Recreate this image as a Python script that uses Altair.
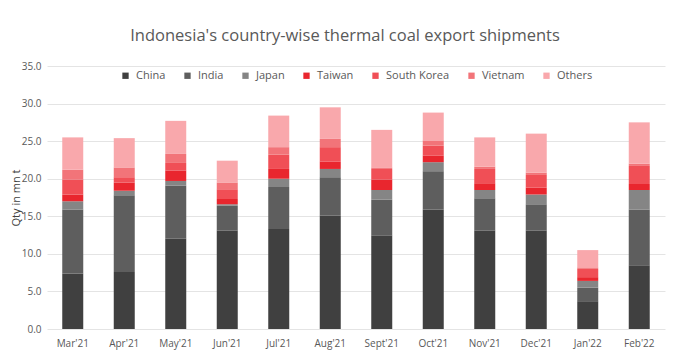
import altair as alt
import pandas as pd

months = ["Mar'21", "Apr'21", "May'21", "Jun'21", "Jul'21", "Aug'21",
          "Sept'21", "Oct'21", "Nov'21", "Dec'21", "Jan'22", "Feb'22"]
series = ["China", "India", "Japan", "Taiwan", "South Korea", "Vietnam", "Others"]
colors = ["#404040", "#5e5e5e", "#858585", "#e9262e", "#f04f56", "#f27479", "#f9a8ac"]

china = [7.4, 7.6, 12.0, 13.1, 13.3, 15.1, 12.4, 15.9, 13.1, 13.1, 3.7, 8.5]
india = [8.5, 10.2, 7.1, 3.3, 5.6, 5.1, 4.8, 5.1, 4.3, 3.5, 1.8, 7.4]
japan = [1.1, 0.6, 0.6, 0.2, 1.1, 1.1, 1.3, 1.2, 1.1, 1.3, 0.9, 2.6]
taiwan = [0.9, 1.1, 1.4, 0.7, 1.3, 1.0, 1.4, 0.9, 0.9, 0.9, 0.5, 0.8]
south_korea = [2.0, 0.7, 1.0, 1.3, 1.9, 1.9, 1.4, 1.3, 1.9, 1.7, 1.1, 2.4]
vietnam = [1.3, 1.3, 1.2, 0.9, 1.0, 1.1, 0.2, 0.7, 0.3, 0.3, 0.2, 0.3]
others = [4.3, 3.9, 4.4, 2.9, 4.2, 4.2, 5.0, 3.7, 3.9, 5.2, 2.3, 5.5]

y_ticks = [0, 5, 10, 15, 20, 25, 30, 35]

values = [china, india, japan, taiwan, south_korea, vietnam, others]
rows = []
for si, (name, vals) in enumerate(zip(series, values)):
    for m, v in zip(months, vals):
        rows.append({"month": m, "country": name, "qty": v, "ord": si})
df = pd.DataFrame(rows)

FONT = "Open Sans"

chart = alt.Chart(df).mark_bar(size=21).encode(
    x=alt.X("month:N", sort=months, title=None,
            axis=alt.Axis(labelAngle=0, domain=False, ticks=False, labelPadding=9,
                          labelFontSize=10, labelColor="#595959", labelFont=FONT)),
    y=alt.Y("qty:Q", title="Qty in mn t",
            scale=alt.Scale(domain=[0, 35], nice=False),
            axis=alt.Axis(values=y_ticks, format=".1f", domain=False, ticks=False,
                          labelPadding=6, labelFontSize=10, labelColor="#595959",
                          labelFont=FONT, titleFont=FONT, titleFontSize=11,
                          titleFontWeight="normal", titleColor="#404040",
                          titlePadding=0, gridColor="#e4e4e4")),
    color=alt.Color("country:N", scale=alt.Scale(domain=series, range=colors),
                    legend=alt.Legend(orient="none", legendX=73, legendY=4,
                                      direction="horizontal", title=None,
                                      symbolType="square", symbolSize=40,
                                      symbolStrokeWidth=0,
                                      labelFont=FONT, labelFontSize=11,
                                      labelColor="#595959", columnPadding=16,
                                      labelOffset=5)),
    order=alt.Order("ord:Q", sort="ascending"),
).properties(
    width=618, height=263,
    title=alt.TitleParams("Indonesia's country-wise thermal coal export shipments",
                          font=FONT, fontSize=16.5, fontWeight="normal",
                          color="#595959", anchor="middle", offset=17, dx=-11),
    autosize=alt.AutoSizeParams(type="none"),
    padding={"left": 39, "top": 58, "right": 10, "bottom": 26},
).configure_view(stroke=None)

chart.save("out.html", embed_options={"renderer": "svg", "actions": False})
